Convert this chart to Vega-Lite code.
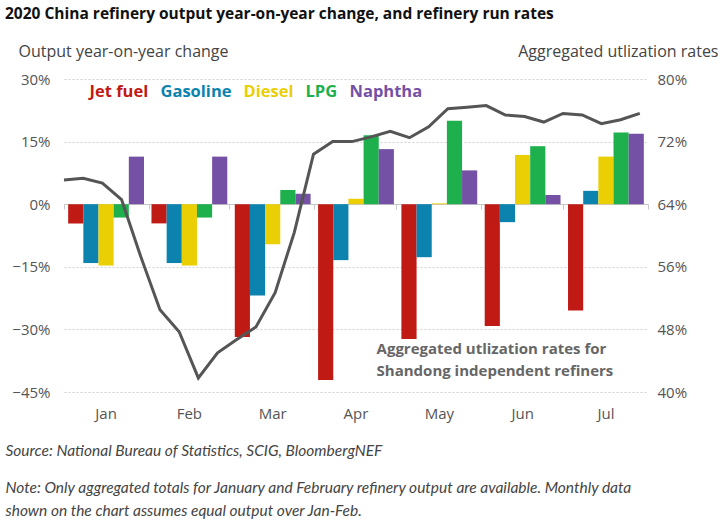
{
  "$schema": "https://vega.github.io/schema/vega-lite/v6.json",
  "width": 584,
  "height": 313,
  "autosize": {"type": "none"},
  "padding": {"left": 64, "top": 79, "right": 78, "bottom": 131},
  "background": "white",
  "title": {
    "text": "2020 China refinery output year-on-year change, and refinery run rates",
    "anchor": "start",
    "frame": "group",
    "dx": -59,
    "dy": -11,
    "offset": 10,
    "font": "Open Sans",
    "fontSize": 15.5,
    "fontWeight": "bold",
    "color": "#111111"
  },
  "config": {"view": {"stroke": null}, "font": "Open Sans"},
  "datasets": {
    "bars": [
      {"month": "Jan", "product": "Jet fuel", "value": -4.6},
      {"month": "Jan", "product": "Gasoline", "value": -14.1},
      {"month": "Jan", "product": "Diesel", "value": -14.7},
      {"month": "Jan", "product": "LPG", "value": -3.2},
      {"month": "Jan", "product": "Naphtha", "value": 11.4},
      {"month": "Feb", "product": "Jet fuel", "value": -4.6},
      {"month": "Feb", "product": "Gasoline", "value": -14.1},
      {"month": "Feb", "product": "Diesel", "value": -14.7},
      {"month": "Feb", "product": "LPG", "value": -3.2},
      {"month": "Feb", "product": "Naphtha", "value": 11.4},
      {"month": "Mar", "product": "Jet fuel", "value": -31.8},
      {"month": "Mar", "product": "Gasoline", "value": -21.9},
      {"month": "Mar", "product": "Diesel", "value": -9.6},
      {"month": "Mar", "product": "LPG", "value": 3.4},
      {"month": "Mar", "product": "Naphtha", "value": 2.5},
      {"month": "Apr", "product": "Jet fuel", "value": -42.1},
      {"month": "Apr", "product": "Gasoline", "value": -13.4},
      {"month": "Apr", "product": "Diesel", "value": 1.3},
      {"month": "Apr", "product": "LPG", "value": 16.5},
      {"month": "Apr", "product": "Naphtha", "value": 13.2},
      {"month": "May", "product": "Jet fuel", "value": -32.3},
      {"month": "May", "product": "Gasoline", "value": -12.7},
      {"month": "May", "product": "Diesel", "value": 0.2},
      {"month": "May", "product": "LPG", "value": 20.0},
      {"month": "May", "product": "Naphtha", "value": 8.1},
      {"month": "Jun", "product": "Jet fuel", "value": -29.2},
      {"month": "Jun", "product": "Gasoline", "value": -4.3},
      {"month": "Jun", "product": "Diesel", "value": 11.8},
      {"month": "Jun", "product": "LPG", "value": 13.9},
      {"month": "Jun", "product": "Naphtha", "value": 2.2},
      {"month": "Jul", "product": "Jet fuel", "value": -25.5},
      {"month": "Jul", "product": "Gasoline", "value": 3.2},
      {"month": "Jul", "product": "Diesel", "value": 11.4},
      {"month": "Jul", "product": "LPG", "value": 17.2},
      {"month": "Jul", "product": "Naphtha", "value": 16.9}
    ],
    "rates": [
      {"date": "2020-01-01", "rate": 67.1},
      {"date": "2020-01-08", "rate": 67.3},
      {"date": "2020-01-15", "rate": 66.7},
      {"date": "2020-01-22", "rate": 64.6},
      {"date": "2020-01-29", "rate": 57.3},
      {"date": "2020-02-05", "rate": 50.5},
      {"date": "2020-02-12", "rate": 47.7},
      {"date": "2020-02-19", "rate": 41.8},
      {"date": "2020-02-26", "rate": 45.0},
      {"date": "2020-03-04", "rate": 46.7},
      {"date": "2020-03-11", "rate": 48.3},
      {"date": "2020-03-18", "rate": 52.7},
      {"date": "2020-03-25", "rate": 60.4},
      {"date": "2020-04-01", "rate": 70.4},
      {"date": "2020-04-08", "rate": 72.0},
      {"date": "2020-04-15", "rate": 72.0},
      {"date": "2020-04-22", "rate": 72.6},
      {"date": "2020-04-29", "rate": 73.3},
      {"date": "2020-05-06", "rate": 72.5},
      {"date": "2020-05-13", "rate": 73.9},
      {"date": "2020-05-20", "rate": 76.2},
      {"date": "2020-05-27", "rate": 76.4},
      {"date": "2020-06-03", "rate": 76.6},
      {"date": "2020-06-10", "rate": 75.4},
      {"date": "2020-06-17", "rate": 75.2},
      {"date": "2020-06-24", "rate": 74.5},
      {"date": "2020-07-01", "rate": 75.6},
      {"date": "2020-07-08", "rate": 75.4},
      {"date": "2020-07-15", "rate": 74.3},
      {"date": "2020-07-22", "rate": 74.8},
      {"date": "2020-07-29", "rate": 75.6}
    ],
    "note": [
      {"date": "2020-04-24", "rate": 44.85}
    ]
  },
  "layer": [
    {
      "data": {"name": "bars"},
      "mark": {"type": "bar"},
      "encoding": {
        "x": {
          "field": "month",
          "type": "nominal",
          "sort": ["Jan", "Feb", "Mar", "Apr", "May", "Jun", "Jul"],
          "scale": {"paddingInner": 0.09, "paddingOuter": 0.05},
          "axis": {
            "orient": "bottom",
            "domain": false,
            "ticks": false,
            "labelAngle": 0,
            "labelPadding": 14,
            "labelFont": "Open Sans",
            "labelFontSize": 15,
            "labelColor": "#555555",
            "title": "Source: National Bureau of Statistics, SCIG, BloombergNEF",
            "titleX": -59,
            "titleY": 63,
            "titleAlign": "left",
            "titleAnchor": "start",
            "titleBaseline": "alphabetic",
            "titleFont": "Lato",
            "titleFontStyle": "italic",
            "titleFontWeight": "normal",
            "titleFontSize": 15.5,
            "titleColor": "#444444"
          }
        },
        "xOffset": {
          "field": "product",
          "type": "nominal",
          "sort": ["Jet fuel", "Gasoline", "Diesel", "LPG", "Naphtha"],
          "scale": {"paddingInner": 0, "paddingOuter": 0}
        },
        "y": {
          "field": "value",
          "type": "quantitative",
          "scale": {"domain": [-45, 30], "nice": false, "zero": false},
          "axis": {
            "orient": "left",
            "values": [-45, -30, -15, 0, 15, 30],
            "format": "d",
            "labelExpr": "datum.label + '%'",
            "grid": true,
            "gridDash": [2, 2],
            "gridColor": "#d0d0d0",
            "domain": false,
            "ticks": false,
            "labelPadding": 14,
            "labelFont": "Open Sans",
            "labelFontSize": 15,
            "labelColor": "#555555",
            "title": "Output year-on-year change",
            "titleAngle": 0,
            "titleX": -46,
            "titleY": -23,
            "titleAlign": "left",
            "titleBaseline": "alphabetic",
            "titleFont": "Open Sans",
            "titleFontSize": 16,
            "titleFontWeight": "normal",
            "titleColor": "#444444"
          }
        },
        "color": {
          "field": "product",
          "type": "nominal",
          "scale": {
            "domain": ["Jet fuel", "Gasoline", "Diesel", "LPG", "Naphtha"],
            "range": ["#BF1A14", "#0B83AE", "#E9CF04", "#1EB04D", "#7451A4"]
          },
          "legend": {
            "orient": "none",
            "legendX": 18,
            "legendY": 5,
            "direction": "horizontal",
            "title": null,
            "symbolSize": 0,
            "symbolOpacity": 0,
            "symbolStrokeWidth": 0,
            "labelOffset": -9,
            "columnPadding": 4,
            "labelFont": "Open Sans",
            "labelFontSize": 16.5,
            "labelFontWeight": "bold",
            "labelColor": {"expr": "scale('color', datum.value)"}
          }
        }
      }
    },
    {
      "encoding": {
        "x": {
          "field": "date",
          "type": "temporal",
          "scale": {
            "type": "utc",
            "domain": [
              {"year": 2020, "month": 1, "date": 1, "utc": true},
              {"year": 2020, "month": 8, "date": 1, "utc": true}
            ]
          },
          "axis": {
            "orient": "top",
            "offset": -125,
            "labels": false,
            "grid": false,
            "domainColor": "#c8c8c8",
            "tickColor": "#c8c8c8",
            "tickSize": -5,
            "values": [
              {"year": 2020, "month": 1, "date": 1, "utc": true},
              {"year": 2020, "month": 2, "date": 1, "utc": true},
              {"year": 2020, "month": 3, "date": 1, "utc": true},
              {"year": 2020, "month": 4, "date": 1, "utc": true},
              {"year": 2020, "month": 5, "date": 1, "utc": true},
              {"year": 2020, "month": 6, "date": 1, "utc": true},
              {"year": 2020, "month": 7, "date": 1, "utc": true},
              {"year": 2020, "month": 8, "date": 1, "utc": true}
            ],
            "title": ["Note: Only aggregated totals for January and February refinery output are available. Monthly data", "shown on the chart assumes equal output over Jan-Feb."],
            "titleX": -59,
            "titleY": 288,
            "titleAlign": "left",
            "titleAnchor": "start",
            "titleBaseline": "alphabetic",
            "titleFont": "Lato",
            "titleFontStyle": "italic",
            "titleFontWeight": "normal",
            "titleFontSize": 15.5,
            "titleLineHeight": 23,
            "titleColor": "#444444"
          }
        },
        "y": {
          "field": "rate",
          "type": "quantitative",
          "scale": {"domain": [40, 80], "nice": false, "zero": false},
          "axis": {
            "orient": "right",
            "values": [40, 48, 56, 64, 72, 80],
            "labelExpr": "datum.value + '%'",
            "grid": false,
            "domain": false,
            "ticks": false,
            "labelPadding": 9,
            "labelFont": "Open Sans",
            "labelFontSize": 15,
            "labelColor": "#555555",
            "title": "Aggregated utlization rates",
            "titleAngle": 0,
            "titleX": 70,
            "titleY": -23,
            "titleAlign": "right",
            "titleBaseline": "alphabetic",
            "titleFont": "Open Sans",
            "titleFontSize": 16,
            "titleFontWeight": "normal",
            "titleColor": "#444444"
          }
        }
      },
      "layer": [
        {
          "data": {"name": "rates"},
          "mark": {"type": "line", "color": "#555555", "strokeWidth": 3}
        },
        {
          "data": {"name": "note"},
          "mark": {
            "type": "text",
            "text": ["Aggregated utlization rates for", "Shandong independent refiners"],
            "align": "left",
            "baseline": "alphabetic",
            "lineHeight": 22,
            "font": "Open Sans",
            "fontSize": 15,
            "fontWeight": "bold",
            "color": "#666666"
          }
        }
      ]
    }
  ],
  "resolve": {
    "scale": {"x": "independent", "y": "independent"},
    "axis": {"x": "independent", "y": "independent"}
  }
}
